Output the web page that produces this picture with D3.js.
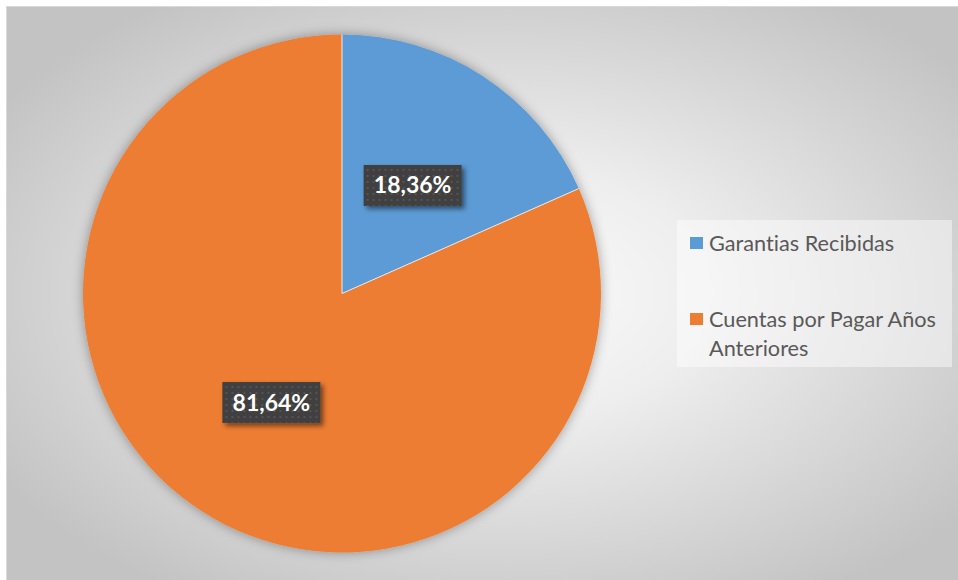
<!DOCTYPE html>
<html>
<head>
<meta charset="utf-8">
<script src="https://cdn.jsdelivr.net/npm/d3@7"></script>
<style>
  html, body { margin: 0; padding: 0; background: #ffffff; }
  svg { display: block; }
  text { font-variant-ligatures: none; font-feature-settings: "liga" 0, "clig" 0; }
</style>
</head>
<body>
<svg id="chart" width="958" height="580"></svg>
<script>
// Chart data
const categories = ["Garantias Recibidas", "Cuentas por Pagar Años Anteriores"];
const values = [18.36, 81.64];
const colors = ["#5B9BD5", "#ED7D31"];
const legendLines = [["Garantias Recibidas"], ["Cuentas por Pagar Años", "Anteriores"]];

const fmt = v => d3.format(".2f")(v).replace(".", ",") + "%";

const svg = d3.select("#chart");
const defs = svg.append("defs");

// Background radial gradient of the chart area
const bg = defs.append("radialGradient").attr("id", "bgGrad")
  .attr("cx", "52%").attr("cy", "50%").attr("r", "62%");
bg.append("stop").attr("offset", "0%").attr("stop-color", "#fbfbfb");
bg.append("stop").attr("offset", "35%").attr("stop-color", "#eeeeee");
bg.append("stop").attr("offset", "100%").attr("stop-color", "#c3c3c3");

// Soft shadow around the pie
const pieShadow = defs.append("filter").attr("id", "pieShadow")
  .attr("x", "-10%").attr("y", "-10%").attr("width", "120%").attr("height", "120%");
pieShadow.append("feDropShadow").attr("dx", 0).attr("dy", 0)
  .attr("stdDeviation", 6).attr("flood-color", "#000").attr("flood-opacity", 0.35);

// Shadow for value label boxes
const boxShadow = defs.append("filter").attr("id", "boxShadow")
  .attr("x", "-20%").attr("y", "-20%").attr("width", "150%").attr("height", "160%");
boxShadow.append("feDropShadow").attr("dx", 3).attr("dy", 3)
  .attr("stdDeviation", 2.5).attr("flood-color", "#000").attr("flood-opacity", 0.5);

// Dotted fill of the value label boxes
const dots = defs.append("pattern").attr("id", "dots")
  .attr("patternUnits", "userSpaceOnUse").attr("width", 6).attr("height", 6);
dots.append("rect").attr("width", 6).attr("height", 6).attr("fill", "#404040");
dots.append("rect").attr("x", 2).attr("y", 2).attr("width", 2).attr("height", 2).attr("fill", "#545454");

// Chart area
svg.append("rect")
  .attr("x", 6.5).attr("y", 6.5).attr("width", 952).attr("height", 574)
  .attr("fill", "url(#bgGrad)").attr("stroke", "#d9d9d9").attr("stroke-width", 1);

// Pie
const cx = 342, cy = 293.5, R = 259;
const pie = d3.pie().sort(null).value(d => d)(values);
const arc = d3.arc().innerRadius(0).outerRadius(R);

const g = svg.append("g").attr("transform", `translate(${cx},${cy})`);
g.append("g").attr("filter", "url(#pieShadow)")
  .selectAll("path").data(pie).join("path")
  .attr("d", arc)
  .attr("fill", (d, i) => colors[i]);

// Thin separators along the slice boundaries
g.selectAll("line.sep").data(pie).join("line")
  .attr("class", "sep")
  .attr("x1", 0).attr("y1", 0)
  .attr("x2", d => R * Math.sin(d.startAngle))
  .attr("y2", d => -R * Math.cos(d.startAngle))
  .attr("stroke", "#ffffff").attr("stroke-opacity", 0.8).attr("stroke-width", 1);

// Value labels in dark boxes at the slice centroids
const labels = g.selectAll("g.lbl").data(pie).join("g")
  .attr("class", "lbl")
  .attr("transform", d => `translate(${arc.centroid(d)})`);
labels.append("rect")
  .attr("x", -49).attr("y", -20).attr("width", 98).attr("height", 41)
  .attr("fill", "url(#dots)").attr("filter", "url(#boxShadow)");
labels.append("text")
  .attr("text-anchor", "middle").attr("y", 8.5)
  .attr("font-family", "Lato, 'Open Sans', sans-serif")
  .attr("font-weight", "bold").attr("font-size", 23)
  .attr("fill", "#ffffff")
  .text((d, i) => fmt(values[i]));

// Legend
const lg = svg.append("g").attr("transform", "translate(677,220)");
lg.append("rect").attr("width", 275).attr("height", 147)
  .attr("fill", "#ffffff").attr("fill-opacity", 0.45);
const itemY = [17, 93];
const items = lg.selectAll("g.item").data(categories).join("g")
  .attr("class", "item")
  .attr("transform", (d, i) => `translate(13,${itemY[i]})`);
items.append("rect").attr("width", 13).attr("height", 12)
  .attr("fill", (d, i) => colors[i]);
items.append("text")
  .attr("x", 19).attr("y", 13.5)
  .attr("font-family", "Lato, 'Open Sans', sans-serif")
  .attr("font-size", 21.7).attr("fill", "#595959")
  .selectAll("tspan").data((d, i) => legendLines[i]).join("tspan")
  .attr("x", 19).attr("dy", (d, j) => j === 0 ? 0 : 29)
  .text(d => d);
</script>
</body>
</html>
